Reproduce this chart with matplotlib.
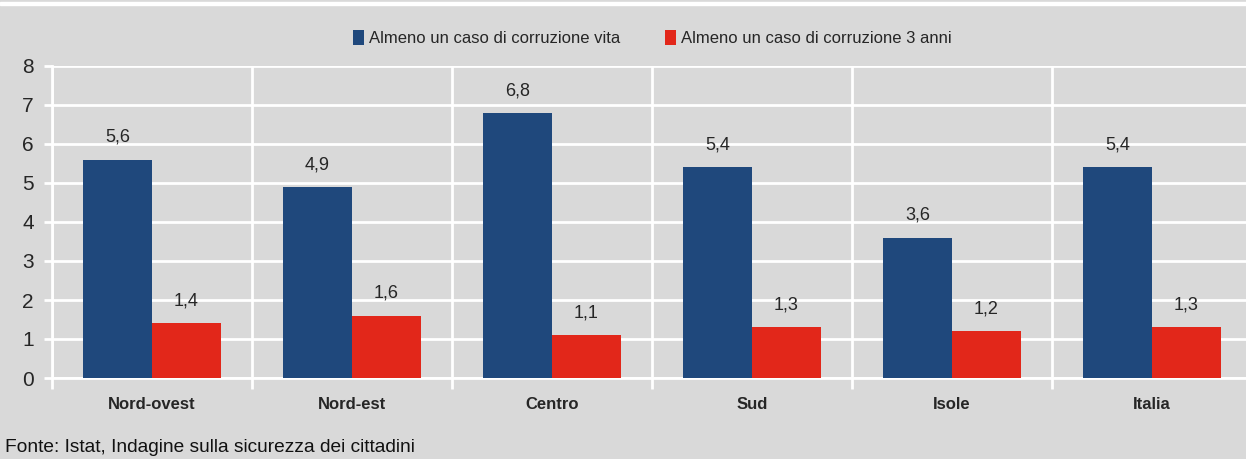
import numpy as np
import matplotlib.pyplot as plt
from matplotlib.patches import Rectangle
from matplotlib.ticker import FixedLocator

categories = ['Nord-ovest', 'Nord-est', 'Centro', 'Sud', 'Isole', 'Italia']
vita = [5.6, 4.9, 6.8, 5.4, 3.6, 5.4]
tre_anni = [1.4, 1.6, 1.1, 1.3, 1.2, 1.3]
series_names = ['Almeno un caso di corruzione vita', 'Almeno un caso di corruzione 3 anni']

BLUE = '#1f487c'
RED = '#e2271a'
BG = '#d9d9d9'
TXT = '#262626'

plt.rcParams['font.family'] = ['Liberation Sans', 'DejaVu Sans']

fig = plt.figure(figsize=(12.46, 4.59), dpi=100, facecolor=BG)
ax = fig.add_axes([52 / 1246, 1 - 378 / 459, 1200 / 1246, 312 / 459])
ax.set_facecolor(BG)

# thin white strip at the very top (cut-off title area)
fig.patches.append(Rectangle((0, 1 - 5 / 459), 1, 3 / 459, transform=fig.transFigure,
                             color='white', zorder=0))

x = np.arange(len(categories))
w = 0.345
b1 = ax.bar(x - w / 2, vita, w, color=BLUE, label=series_names[0], zorder=3)
b2 = ax.bar(x + w / 2, tre_anni, w, color=RED, label=series_names[1], zorder=3)

for bars, vals in [(b1, vita), (b2, tre_anni)]:
    for r, v in zip(bars, vals):
        ax.annotate(f'{v:.1f}'.replace('.', ','), (r.get_x() + r.get_width() / 2, v),
                    xytext=(0, 16), textcoords='offset points', ha='center', va='center',
                    fontsize=13, color=TXT)

ax.set_xlim(-0.5, len(categories) - 0.5)
ax.set_ylim(0, 8)
ax.set_yticks(range(0, 9))
ax.yaxis.grid(True, color='white', linewidth=2, zorder=1)

ax.set_xticks(x)
ax.set_xticklabels(categories, fontsize=12, fontweight='bold', color=TXT)
ax.xaxis.set_minor_locator(FixedLocator(np.arange(-0.5, len(categories), 1.0)))
ax.xaxis.grid(True, which='minor', color='white', linewidth=2, zorder=1)
ax.tick_params(axis='x', which='major', length=0, pad=14)
ax.tick_params(axis='x', which='minor', length=8, width=2, color='white')
ax.tick_params(axis='y', length=6, width=2, color='white', labelsize=15, labelcolor=TXT, pad=7)

for s in ['top', 'right']:
    ax.spines[s].set_visible(False)
for s in ['left', 'bottom']:
    ax.spines[s].set_color('white')
    ax.spines[s].set_linewidth(2)

fig.legend(loc='center', bbox_to_anchor=(652 / 1246, 1 - 38 / 459), ncol=2, frameon=False,
           fontsize=12, handlelength=0.7, handleheight=1.0, handletextpad=0.25,
           columnspacing=2.7, labelcolor=TXT)

fig.text(5 / 1246, 1 - 448 / 459, 'Fonte: Istat, Indagine sulla sicurezza dei cittadini',
         fontsize=13.8, color='#111111', ha='left', va='center')

fig.savefig('out.png', dpi=100, facecolor=BG)
